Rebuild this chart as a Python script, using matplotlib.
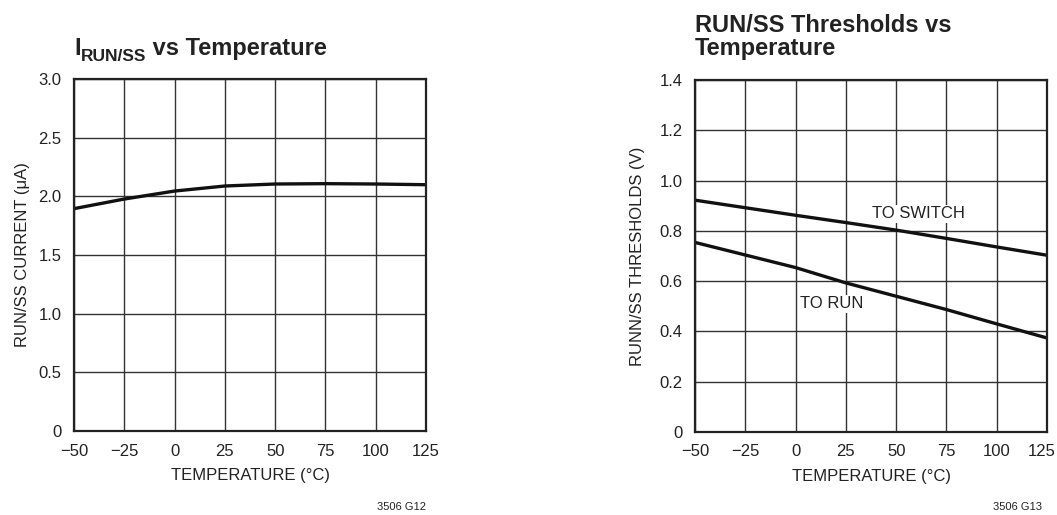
import numpy as np
import matplotlib
matplotlib.use('Agg')
import matplotlib.pyplot as plt
from matplotlib import font_manager
from matplotlib.transforms import ScaledTranslation

names = {f.name for f in font_manager.fontManager.ttflist}
base = 'Liberation Sans Narrow' if 'Liberation Sans Narrow' in names else 'Liberation Sans'
plt.rcParams['font.family'] = [base, 'DejaVu Sans']
plt.rcParams['axes.unicode_minus'] = True

# данные
temp = [-50, -25, 0, 25, 50, 75, 100, 125]
i_run = [1.895, 1.977, 2.045, 2.088, 2.105, 2.108, 2.105, 2.099]
to_switch = [0.922, 0.892, 0.862, 0.833, 0.803, 0.770, 0.736, 0.703]
to_run = [0.754, 0.704, 0.654, 0.593, 0.540, 0.487, 0.430, 0.374]

x_ticks = [-50, -25, 0, 25, 50, 75, 100, 125]
y1_ticks = [0, 0.5, 1.0, 1.5, 2.0, 2.5, 3.0]
y1_labels = ['0', '0.5', '1.0', '1.5', '2.0', '2.5', '3.0']
y2_ticks = [0, 0.2, 0.4, 0.6, 0.8, 1.0, 1.2, 1.4]
y2_labels = ['0', '0.2', '0.4', '0.6', '0.8', '1.0', '1.2', '1.4']

W, H = 1057, 515
fig = plt.figure(figsize=(W / 100, H / 100), dpi=100)
FS = 12


def px_axes(l, t, r, b):
    return fig.add_axes([l / W, 1 - b / H, (r - l) / W, (b - t) / H])


def style(ax, yt, ylab, ymax):
    ax.set_xlim(-50, 125)
    ax.set_ylim(0, ymax)
    ax.set_xticks(x_ticks)
    ax.set_xticklabels([f'{v}'.replace('-', '\u2212') for v in x_ticks])
    ax.set_yticks(yt)
    ax.set_yticklabels(ylab)
    ax.grid(True, color='#333333', linewidth=1.0)
    ax.set_axisbelow(True)
    ax.tick_params(axis='x', length=0, labelsize=FS, pad=9, colors='#222222')
    ax.tick_params(axis='y', length=0, labelsize=FS, pad=9, colors='#222222')
    for s in ax.spines.values():
        s.set_linewidth(1.6)
        s.set_color('#222222')
    ax.set_xlabel('TEMPERATURE (°C)', fontsize=FS, color='#222222', labelpad=7)


ax1 = px_axes(74, 79, 426, 431)
style(ax1, y1_ticks, y1_labels, 3.0)
ax1.plot(temp, i_run, color='#111111', linewidth=2.4, solid_capstyle='butt')
ax1.set_ylabel('RUN/SS CURRENT (\u03bcA)', fontsize=FS, color='#222222', labelpad=6)

ax2 = px_axes(695, 80, 1047, 432)
style(ax2, y2_ticks, y2_labels, 1.4)
ax2.plot(temp, to_switch, color='#111111', linewidth=2.4, solid_capstyle='butt')
ax2.plot(temp, to_run, color='#111111', linewidth=2.4, solid_capstyle='butt')
ax2.set_ylabel('RUNN/SS THRESHOLDS (V)', fontsize=FS, color='#222222', labelpad=10)
ax2.text(38, 0.868, 'TO SWITCH', fontsize=FS, va='center', ha='left', color='#222222',
         bbox=dict(facecolor='white', edgecolor='none', pad=1))
ax2.text(2, 0.51, 'TO RUN', fontsize=FS, va='center', ha='left', color='#222222',
         bbox=dict(facecolor='white', edgecolor='none', pad=1))

# последняя подпись справа чуть левее, чтобы не обрезалась
last = ax2.get_xticklabels()[-1]
last.set_transform(last.get_transform() + ScaledTranslation(-5 / 100, 0, fig.dpi_scale_trans))

# заголовки
tkw = dict(fontsize=17, fontweight='bold', color='#222222')
fig.canvas.draw()
r = fig.canvas.get_renderer()
t1 = fig.text(74 / W, 1 - 55 / H, 'I', va='baseline', **tkw)
bb = t1.get_window_extent(r)
t2 = fig.text(bb.x1 / W, 1 - 61 / H, 'RUN/SS', va='baseline', fontsize=12.5,
              fontweight='bold', color='#222222')
bb = t2.get_window_extent(r)
fig.text(bb.x1 / W, 1 - 55 / H, ' vs Temperature', va='baseline', **tkw)

fig.text(695 / W, 1 - 32 / H, 'RUN/SS Thresholds vs', va='baseline', **tkw)
fig.text(695 / W, 1 - 55 / H, 'Temperature', va='baseline', **tkw)

fig.text(426 / W, 1 - 507 / H, '3506 G12', fontsize=8, ha='right', va='center', color='#222222')
fig.text(1042 / W, 1 - 507 / H, '3506 G13', fontsize=8, ha='right', va='center', color='#222222')

fig.savefig('out.png', dpi=100)
